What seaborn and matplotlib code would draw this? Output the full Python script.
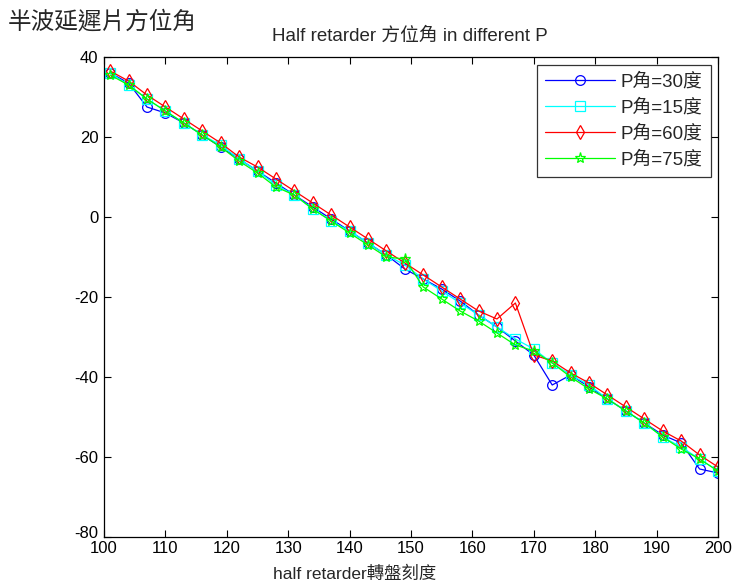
import numpy as np
import pandas as pd
import matplotlib
matplotlib.use("Agg")
import matplotlib.pyplot as plt
import matplotlib.transforms as mtransforms
import seaborn as sns

# Turntable scale readings of the half-wave retarder
scale = [101, 104, 107, 110, 113, 116, 119, 122, 125, 128, 131, 134, 137, 140,
         143, 146, 149, 152, 155, 158, 161, 164, 167, 170, 173, 176, 179, 182,
         185, 188, 191, 194, 197, 200]

# Measured azimuth angle for each polarizer angle P
az_p30 = [36, 33.5, 27.5, 26, 23.5, 20.5, 17.5, 14.5, 11.5, 8.5, 5.5, 2.5, -0.5, -3.5,
          -6.5, -9.5, -13, -15.5, -18, -21, -24.5, -27.5, -31, -34.5, -42, -39.5, -42.5, -45.5,
          -48.5, -51.5, -54.5, -56.5, -63, -64]
az_p15 = [36, 33, 29.5, 26.5, 23.5, 20.5, 18, 14.5, 11.5, 8, 5.5, 2, -1, -3.5,
          -6.5, -9.5, -12, -15.5, -18.5, -21.5, -24.5, -27.5, -30.5, -33, -36.5, -39.5, -42, -45.5,
          -48.5, -51.5, -55, -57.5, -60.5, -63.5]
az_p60 = [36.5, 34, 30.5, 27.5, 24.5, 21.5, 18.5, 15, 12.5, 9.5, 6.5, 3.5, 0.5, -2.5,
          -5.5, -8.5, -11.5, -14.5, -17.5, -20.5, -23.5, -25.5, -21.5, -34.5, -36, -39, -41.5, -44.5,
          -47.5, -50.5, -53.5, -56, -59.5, -62.5]
az_p75 = [35.5, 33, 29.5, 26.5, 23.5, 20.5, 17.5, 14, 11, 7.5, 5.5, 2, -1, -4,
          -7, -10, -10.5, -17.5, -20.5, -23.5, -26, -29, -32, -33.5, -36.5, -40, -43, -45.5,
          -48.5, -51.5, -55, -58, -60.5, -63.5]

labels = ["P角=30度", "P角=15度", "P角=60度", "P角=75度"]
series = [az_p30, az_p15, az_p60, az_p75]
colors = ["#0000ff", "#00ffff", "#ff0000", "#00ff00"]
markers = ["o", "s", "d", "*"]
msizes = [7, 7, 7, 8]

x_ticks = [100, 110, 120, 130, 140, 150, 160, 170, 180, 190, 200]
y_ticks = [-80, -60, -40, -20, 0, 20, 40]

sns.set_theme(style="white")
fonts = ["Liberation Sans Narrow", "Liberation Sans", "Noto Sans CJK TC", "DejaVu Sans"]
cjk = ["Noto Sans CJK TC", "DejaVu Sans"]
plt.rcParams["font.family"] = fonts
plt.rcParams["axes.unicode_minus"] = False

fig = plt.figure(figsize=(7.32, 5.84), dpi=100)
fig.patch.set_facecolor("white")
ax = fig.add_axes([104 / 732, 1 - 537 / 584, (718 - 104) / 732, (537 - 57) / 584])

for vals, lab, col, mk, ms in zip(series, labels, colors, markers, msizes):
    df = pd.DataFrame({"scale": scale, "az": vals})
    sns.lineplot(data=df, x="scale", y="az", ax=ax, color=col, marker=mk,
                 markersize=ms, markerfacecolor="none", markeredgecolor=col,
                 markeredgewidth=0.9, linewidth=0.9, label=lab, sort=False)

ax.set_xlim(100, 200)
ax.set_ylim(-80, 40)
ax.set_xticks(x_ticks)
ax.set_yticks(y_ticks)
ax.set_xticklabels([str(v) for v in x_ticks])
ax.set_yticklabels([str(v) for v in y_ticks])
ax.tick_params(direction="in", length=5, width=0.8, colors="black",
               labelsize=12, top=True, right=True, bottom=True, left=True)
ax.tick_params(axis="x", pad=3)
ax.tick_params(axis="y", pad=4)
for sp in ax.spines.values():
    sp.set_color("black")
    sp.set_linewidth(0.9)

# lift the lowest y label a little so it clears the first x label
lowest = ax.get_yticklabels()[0]
lowest.set_transform(lowest.get_transform() +
                     mtransforms.ScaledTranslation(0, 5 / 100, fig.dpi_scale_trans))

ax.set_xlabel("")
ax.set_ylabel("")
fig.text(355 / 732, 1 - 574 / 584, "half retarder轉盤刻度",
         ha="center", va="center", fontsize=12.5, family=fonts)
fig.text(8 / 732, 1 - 22 / 584, "半波延遲片方位角", ha="left", va="center",
         fontsize=17, family=cjk)
fig.text(410 / 732, 1 - 36 / 584, "Half retarder 方位角 in different P",
         ha="center", va="center", fontsize=13.5, family=fonts)

leg = ax.legend(loc="upper right", frameon=True, fancybox=False, edgecolor="black",
                fontsize=13.5, handlelength=3.7, borderaxespad=0.4, labelspacing=0.45,
                handletextpad=0.3, borderpad=0.45)
leg.get_frame().set_linewidth(0.9)

fig.savefig("out.png", dpi=100, facecolor="white")
